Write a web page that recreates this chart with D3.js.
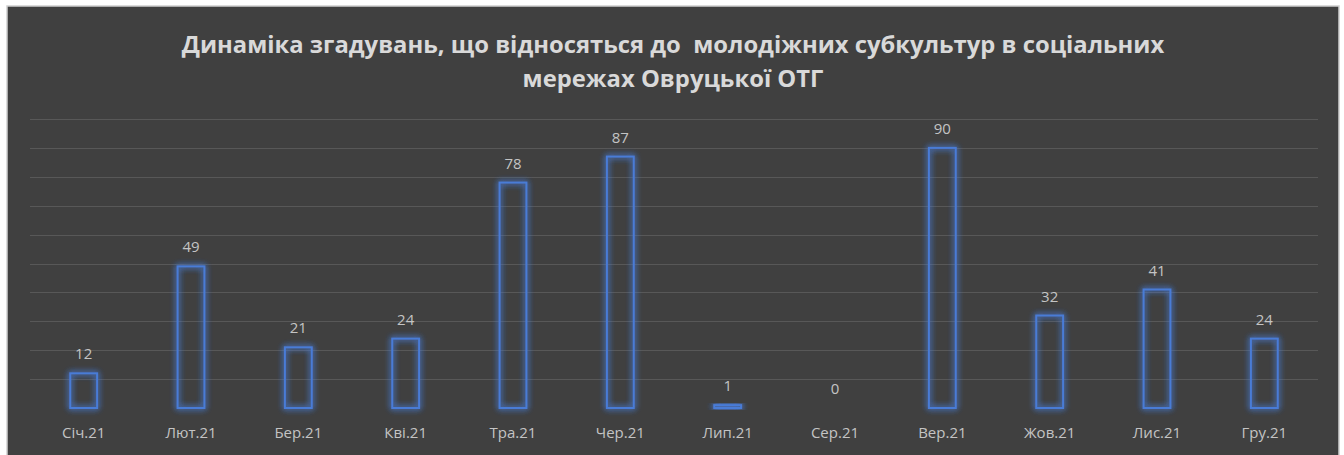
<!DOCTYPE html>
<html>
<head>
<meta charset="utf-8">
<script src="https://cdn.jsdelivr.net/npm/d3@7"></script>
<style>
  body { margin: 0; background: #ffffff; }
  svg { display: block; }
</style>
</head>
<body>
<div id="chart"></div>
<script>
const months = ['Січ.21', 'Лют.21', 'Бер.21', 'Кві.21', 'Тра.21', 'Чер.21', 'Лип.21', 'Сер.21', 'Вер.21', 'Жов.21', 'Лис.21', 'Гру.21'];
const mentions = [12, 49, 21, 24, 78, 87, 1, 0, 90, 32, 41, 24];
const gridTicks = [10, 20, 30, 40, 50, 60, 70, 80, 90, 100];
const titleLines = ['Динаміка згадувань, що відносяться до  молодіжних субкультур в соціальних', 'мережах Овруцької ОТГ'];

const width = 1344, height = 455;
const margin = { top: 119, right: 26, bottom: 47, left: 30 };

const svg = d3.select('#chart').append('svg')
    .attr('width', width)
    .attr('height', height);

// soft blue glow round the bars
const glow = svg.append('defs').append('filter')
    .attr('id', 'glow')
    .attr('x', '-50%').attr('y', '-50%')
    .attr('width', '200%').attr('height', '200%');
glow.append('feGaussianBlur').attr('in', 'SourceGraphic').attr('stdDeviation', 3).attr('result', 'blur');
const merge = glow.append('feMerge');
merge.append('feMergeNode').attr('in', 'blur');
merge.append('feMergeNode').attr('in', 'blur');
merge.append('feMergeNode').attr('in', 'SourceGraphic');

svg.append('rect')
    .attr('x', 7).attr('y', 6)
    .attr('width', 1332).attr('height', 452)
    .attr('fill', '#404040')
    .attr('stroke', '#cfcfcf')
    .attr('stroke-width', 1.5);

const x = d3.scaleBand()
    .domain(months)
    .range([margin.left, width - margin.right])
    .paddingInner(0.75)
    .paddingOuter(0.375);

const y = d3.scaleLinear()
    .domain([0, 100])
    .range([height - margin.bottom, margin.top]);

// gridlines
svg.append('g')
    .selectAll('line')
    .data(gridTicks)
    .join('line')
    .attr('x1', margin.left)
    .attr('x2', width - margin.right)
    .attr('y1', d => Math.round(y(d)) + 0.5)
    .attr('y2', d => Math.round(y(d)) + 0.5)
    .attr('stroke', '#585858')
    .attr('stroke-width', 1.2);

// title
svg.append('text')
    .attr('x', 673)
    .attr('text-anchor', 'middle')
    .attr('xml:space', 'preserve')
    .style('white-space', 'pre')
    .style('font-family', '"Open Sans", sans-serif')
    .style('font-size', '23.8px')
    .style('font-weight', 'bold')
    .attr('fill', '#d9d9d9')
    .selectAll('tspan')
    .data(titleLines)
    .join('tspan')
    .attr('x', 673)
    .attr('y', (d, i) => 53 + i * 34)
    .text(d => d);

// bars
svg.append('g')
    .selectAll('rect')
    .data(mentions)
    .join('rect')
    .attr('x', (d, i) => x(months[i]))
    .attr('y', d => y(d))
    .attr('width', x.bandwidth())
    .attr('height', d => y(0) - y(d))
    .attr('fill', 'none')
    .attr('stroke', '#4a7bd6')
    .attr('stroke-width', 2)
    .attr('filter', 'url(#glow)')
    .style('display', d => d === 0 ? 'none' : null);

// value labels
svg.append('g')
    .selectAll('text')
    .data(mentions)
    .join('text')
    .attr('x', (d, i) => x(months[i]) + x.bandwidth() / 2)
    .attr('y', d => y(d) - 14)
    .attr('text-anchor', 'middle')
    .style('font-family', '"Open Sans", sans-serif')
    .style('font-size', '15px')
    .attr('fill', '#c4c4c4')
    .text(d => d);

// category axis
const xAxis = svg.append('g')
    .attr('transform', `translate(0,${height - margin.bottom})`)
    .call(d3.axisBottom(x).tickSize(0).tickPadding(19));
xAxis.select('.domain').remove();
xAxis.selectAll('text')
    .style('font-family', '"Open Sans", sans-serif')
    .style('font-size', '15px')
    .attr('fill', '#c4c4c4');
</script>
</body>
</html>
